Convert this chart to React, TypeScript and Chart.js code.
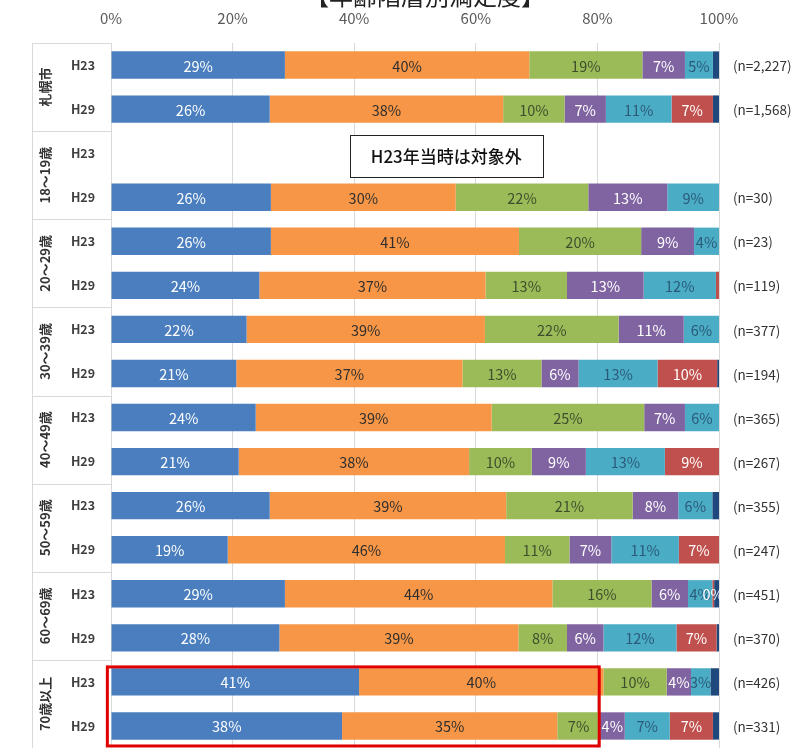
import React, { useEffect, useRef } from "react";
import { Chart, registerables } from "chart.js";

Chart.register(...registerables);

const groups = ["札幌市", "18～19歳", "20～29歳", "30～39歳", "40～49歳", "50～59歳", "60～69歳", "70歳以上"];
const years = ["H23", "H29"];
const rowLabels = groups.flatMap((g) => years.map((y) => `${g} ${y}`));
const sampleSizes = [
  "(n=2,227)", "(n=1,568)", "", "(n=30)", "(n=23)", "(n=119)", "(n=377)", "(n=194)",
  "(n=365)", "(n=267)", "(n=355)", "(n=247)", "(n=451)", "(n=370)", "(n=426)", "(n=331)",
];
const xTicks = [0, 20, 40, 60, 80, 100];

const seriesNames = ["満足", "やや満足", "どちらともいえない", "やや不満", "不満", "わからない", "無回答"];
const satisfied = [28.6, 26.1, null, 26.3, 26.3, 24.4, 22.3, 20.6, 23.8, 21.0, 26.1, 19.2, 28.6, 27.7, 40.8, 38.0];
const somewhatSatisfied = [40.2, 38.4, null, 30.4, 40.8, 37.2, 39.2, 37.2, 38.8, 37.9, 38.9, 45.6, 44.0, 39.3, 40.2, 35.4];
const neutral = [18.6, 10.1, null, 21.8, 20.1, 13.4, 22.0, 13.0, 25.1, 10.3, 20.8, 10.6, 16.3, 8.0, 10.4, 7.0];
const somewhatDissatisfied = [7.0, 6.8, null, 13.0, 8.7, 12.6, 10.7, 6.1, 6.7, 8.9, 7.5, 6.9, 6.0, 6.0, 4.0, 4.1];
const dissatisfied = [4.6, 10.8, null, 8.5, 4.1, 11.9, 5.8, 13.0, 5.6, 13.0, 5.6, 11.1, 4.0, 12.0, 3.2, 7.4];
const unknown = [0, 6.8, null, 0, 0, 0.5, 0, 9.8, 0, 8.9, 0, 6.6, 0.3, 6.6, 0, 7.1];
const noAnswer = [1.0, 1.0, null, 0, 0, 0, 0, 0.3, 0, 0, 1.1, 0, 0.8, 0.4, 1.4, 1.0];

const seriesValues = [satisfied, somewhatSatisfied, neutral, somewhatDissatisfied, dissatisfied, unknown, noAnswer];
const seriesColors = ["#4A7EBF", "#F79646", "#9BBB59", "#8064A2", "#4BACC6", "#C0504D", "#1F497D"];
const labelColors = ["#FFFFFF", "#2E2E2E", "#3E4D2C", "#FFFFFF", "#2B5A78", "#FFFFFF", null];
// labels for segments smaller than the threshold are hidden, except these [row, series]
const forcedLabels = [[12, 5]];
const noteText = "H23年当時は対象外";
const noteRow = 2;
const noteFrom = 39.3;
const noteTo = 71;
const highlightRows = [14, 15];
const highlightTo = 80.3;
const titleText = "【年齢階層別満足度】";

const FONT = '"Noto Sans CJK JP", "Noto Sans", sans-serif';

const overlayPlugin = {
  id: "overlay",
  afterDatasetsDraw(chart: any) {
    const ctx = chart.ctx;
    ctx.save();
    ctx.font = `14.5px ${FONT}`;
    ctx.textAlign = "center";
    ctx.textBaseline = "middle";
    chart.data.datasets.forEach((ds: any, di: number) => {
      const color = labelColors[di];
      if (!color) return;
      const meta = chart.getDatasetMeta(di);
      meta.data.forEach((el: any, i: number) => {
        const v = ds.data[i];
        if (v == null) return;
        const forced = forcedLabels.some(([r, s]) => r === i && s === di);
        if (v < 2.5 && !forced) return;
        const cx = (el.x + el.base) / 2;
        ctx.fillStyle = color;
        ctx.fillText(`${Math.round(v)}%`, cx, el.y + 1);
      });
    });
    ctx.restore();
  },
  afterDraw(chart: any) {
    const ctx = chart.ctx;
    const xs = chart.scales.x;
    const ys = chart.scales.y;
    const area = chart.chartArea;
    const pitch = ys.getPixelForValue(1) - ys.getPixelForValue(0);
    const tableLeft = 32;
    ctx.save();

    // title (clipped at top)
    ctx.font = `24px ${FONT}`;
    ctx.fillStyle = "#222";
    ctx.textAlign = "center";
    ctx.textBaseline = "alphabetic";
    ctx.fillText(titleText, 425, 5);

    // left table lines
    ctx.strokeStyle = "#D9D9D9";
    ctx.lineWidth = 1;
    ctx.beginPath();
    ctx.moveTo(tableLeft + 0.5, area.top);
    ctx.lineTo(tableLeft + 0.5, area.bottom);
    ctx.moveTo(tableLeft, area.top + 0.5);
    ctx.lineTo(area.left, area.top + 0.5);
    for (let g = 1; g < groups.length; g++) {
      const yb = Math.round(ys.getPixelForValue(g * 2) - pitch / 2) + 0.5;
      ctx.moveTo(tableLeft, yb);
      ctx.lineTo(area.left, yb);
    }
    ctx.stroke();

    // group labels (rotated)
    groups.forEach((g, gi) => {
      const yc = (ys.getPixelForValue(gi * 2) + ys.getPixelForValue(gi * 2 + 1)) / 2;
      ctx.save();
      ctx.translate(45, yc);
      ctx.rotate(-Math.PI / 2);
      ctx.font = `bold 13px ${FONT}`;
      ctx.fillStyle = "#333";
      ctx.textAlign = "center";
      ctx.textBaseline = "middle";
      ctx.fillText(g, 0, 0);
      ctx.restore();
    });

    // year labels and n labels
    rowLabels.forEach((_, i) => {
      const yc = ys.getPixelForValue(i);
      ctx.font = `bold 12.5px ${FONT}`;
      ctx.fillStyle = "#404040";
      ctx.textAlign = "center";
      ctx.textBaseline = "middle";
      ctx.fillText(years[i % 2], 83, yc);
      if (sampleSizes[i]) {
        ctx.font = `13.5px ${FONT}`;
        ctx.fillStyle = "#333";
        ctx.textAlign = "left";
        ctx.fillText(sampleSizes[i], 733, yc + 1);
      }
    });

    // note box
    const nx0 = xs.getPixelForValue(noteFrom);
    const nx1 = xs.getPixelForValue(noteTo);
    const ny = ys.getPixelForValue(noteRow) + 3;
    ctx.fillStyle = "#FFFFFF";
    ctx.fillRect(nx0, ny - 21, nx1 - nx0, 42);
    ctx.strokeStyle = "#222";
    ctx.lineWidth = 1;
    ctx.strokeRect(Math.round(nx0) + 0.5, Math.round(ny - 21) + 0.5, Math.round(nx1 - nx0), 42);
    ctx.font = `500 17px ${FONT}`;
    ctx.fillStyle = "#111";
    ctx.textAlign = "center";
    ctx.textBaseline = "middle";
    ctx.fillText(noteText, (nx0 + nx1) / 2, ny);

    // highlight box
    const hx0 = xs.getPixelForValue(-0.6);
    const hx1 = xs.getPixelForValue(highlightTo);
    const hy0 = ys.getPixelForValue(highlightRows[0]) - 15;
    const hy1 = ys.getPixelForValue(highlightRows[1]) + 20;
    ctx.strokeStyle = "#E00000";
    ctx.lineWidth = 3;
    ctx.strokeRect(hx0, hy0, hx1 - hx0, hy1 - hy0);

    ctx.restore();
  },
};

export default function App() {
  const ref = useRef<HTMLCanvasElement | null>(null);

  useEffect(() => {
    if (!ref.current) return;
    const chart = new Chart(ref.current, {
      type: "bar",
      data: {
        labels: rowLabels,
        datasets: seriesValues.map((vals, i) => ({
          label: seriesNames[i],
          data: vals,
          backgroundColor: seriesColors[i],
          borderWidth: 0,
          barPercentage: 0.62,
          categoryPercentage: 1,
        })),
      },
      options: {
        indexAxis: "y",
        responsive: false,
        animation: false,
        layout: { padding: { left: 111, right: 76, top: 0, bottom: 0 } },
        plugins: {
          legend: { display: false },
          tooltip: { enabled: false },
          title: { display: false },
        },
        scales: {
          x: {
            position: "top",
            stacked: true,
            min: 0,
            max: 100,
            afterBuildTicks: (scale: any) => {
              scale.ticks = xTicks.map((v) => ({ value: v }));
            },
            afterFit: (scale: any) => {
              scale.height = 43;
            },
            ticks: {
              callback: (v: any) => `${v}%`,
              color: "#595959",
              font: { size: 15, family: FONT },
              padding: 16,
              maxRotation: 0,
            },
            grid: { color: "#D9D9D9", drawTicks: false },
            border: { display: false },
          },
          y: {
            stacked: true,
            display: false,
          },
        },
      },
      plugins: [overlayPlugin],
    } as any);
    return () => chart.destroy();
  }, []);

  return (
    <div style={{ position: "fixed", left: 0, top: 0, width: 795, height: 748, background: "#fff" }}>
      <canvas ref={ref} width={795} height={748} style={{ display: "block" }} />
    </div>
  );
}
